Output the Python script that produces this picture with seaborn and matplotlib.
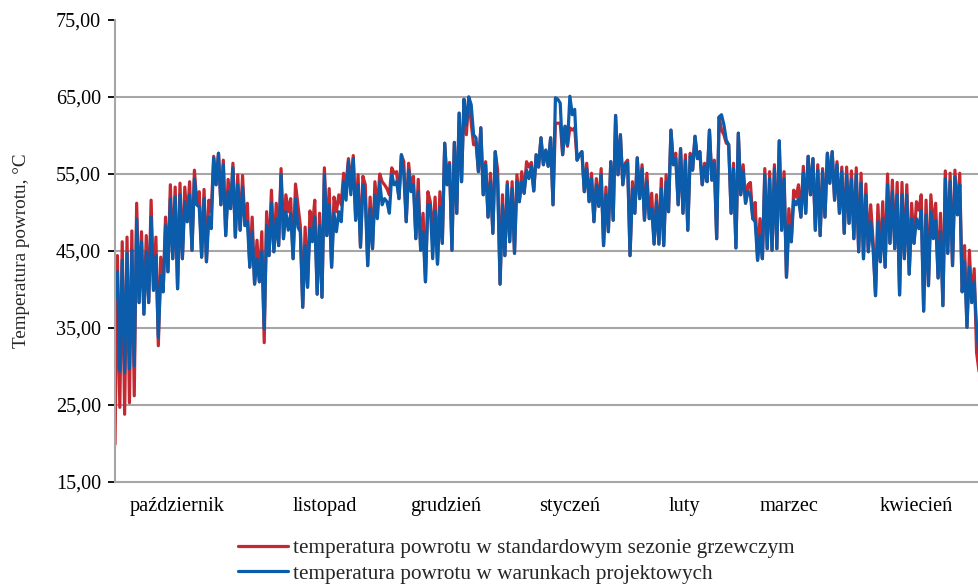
import matplotlib
matplotlib.use("Agg")
import matplotlib.pyplot as plt
from matplotlib.ticker import FuncFormatter, FixedLocator
import numpy as np
import pandas as pd
import seaborn as sns

# Return temperature, standard heating season (red)
standard = [
    # October
    19.9, 44.4, 24.7, 46.2, 23.8, 46.8, 25.3, 47.6, 26.2, 51.2, 38.3, 47.5, 36.8, 47.0, 38.3, 51.6,
    39.9, 46.8, 32.7, 44.2, 39.7, 49.4, 42.3, 53.6, 44.0, 53.3, 40.1, 53.8, 44.0, 53.3, 48.8, 54.0,
    45.1, 55.5, 51.0, 52.7, 44.2, 53.0, 43.6, 51.6, 50.1, 57.3, 53.6, 57.7, 51.0, 56.8, 47.0, 54.3,
    50.5, 56.4, 46.8, 54.9, 47.7, 54.8, 48.3, 51.2, 42.9, 49.4, 40.7, 46.4, 41.0, 47.5,
    # November
    33.1, 50.1, 44.4, 52.9, 44.9, 51.2, 45.7, 55.7, 46.6, 52.3, 50.1, 51.8, 44.0, 53.7, 51.0, 48.3,
    37.7, 48.1, 40.3, 50.2, 47.9, 51.6, 39.4, 49.9, 39.0, 55.8, 47.0, 53.1, 42.9, 52.0, 50.1, 52.3,
    51.0, 55.1, 53.6, 57.0, 53.6, 57.4, 49.0, 54.9, 45.5, 54.7, 53.6, 43.1, 52.0, 45.3, 54.0, 50.1,
    55.0, 54.0, 53.6, 53.1, 52.3, 55.8, 55.1, 55.3, 51.8, 57.5,
    # December
    56.6, 48.8, 56.4, 53.1, 54.7, 46.6, 54.3, 45.1, 49.9, 41.0, 52.7, 51.4, 46.6, 52.0, 43.3, 52.7,
    46.0, 59.0, 53.6, 56.5, 45.1, 59.1, 49.9, 62.9, 54.0, 64.7, 60.1, 65.0, 61.6, 58.8, 59.0, 55.3,
    61.0, 52.3, 56.6, 49.4, 55.1, 47.3, 57.9, 55.5, 40.7, 52.3, 44.4, 54.0, 46.2, 54.0, 44.7, 54.9,
    51.4, 55.3, 52.5, 56.6, 55.9, 56.5, 52.8, 57.5, 55.9, 59.7, 56.2, 58.1,
    # January
    56.0, 59.7, 51.0, 61.6, 61.6, 61.6, 57.5, 61.2, 58.6, 61.0, 60.7, 61.0, 56.8, 57.5, 57.9, 52.7,
    56.4, 51.4, 55.1, 48.8, 54.4, 50.8, 55.7, 45.7, 53.3, 47.5, 56.6, 49.0, 62.6, 54.9, 60.1, 53.6,
    56.4, 56.8, 44.4, 54.0, 49.9, 57.1, 51.8, 56.2, 49.0, 55.1, 49.2, 52.5, 45.9, 52.3, 45.9, 54.4,
    45.7, 54.9, 50.1, 60.7, 56.2, 57.7, 51.0, 58.3, 49.9, 57.5, 47.7, 57.7, 55.5, 59.9,
    # February / March
    57.0, 57.9, 53.6, 56.4, 54.0, 60.7, 54.2, 56.8, 46.6, 62.4, 60.7, 60.1, 59.0, 58.8, 49.9, 56.4,
    45.4, 60.3, 52.3, 56.2, 51.2, 53.6, 53.9, 49.2, 51.3, 43.8, 49.2, 44.0, 55.7, 45.3, 55.3, 45.1,
    56.2, 45.3, 59.3, 47.7, 55.3, 41.6, 50.5, 46.2, 52.9, 52.0, 53.6, 49.4, 56.0, 49.9, 57.3, 52.3,
    57.0, 47.7, 56.2, 47.0, 55.7, 49.4, 57.7, 53.8, 57.9, 51.6, 56.6, 49.9, 55.9,
    # April
    47.3, 55.9, 48.6, 55.4, 46.6, 55.8, 44.9, 55.1, 44.0, 53.7, 44.9, 51.0, 46.2, 39.2, 51.0, 43.6,
    51.4, 42.9, 55.0, 46.0, 54.2, 45.3, 53.9, 39.3, 53.9, 44.0, 53.6, 42.0, 51.2, 46.0, 51.4, 50.3,
    52.3, 37.2, 51.6, 40.5, 52.3, 47.9, 51.2, 41.5, 49.9, 37.9, 55.4, 44.7, 55.1, 43.1, 55.5, 49.7,
    55.1, 39.7, 45.7, 35.1, 45.1, 38.3, 42.7, 31.8, 29.4,
]

# Return temperature under design conditions (blue)
design = [
    # October
    38.8, 42.3, 29.4, 43.8, 29.2, 44.7, 29.7, 45.1, 30.1, 49.2, 38.3, 46.2, 36.8, 44.9, 38.3, 49.4,
    39.9, 44.4, 33.8, 41.8, 39.7, 48.3, 42.3, 51.8, 44.0, 52.0, 40.1, 52.3, 44.0, 51.4, 48.8, 52.3,
    45.1, 54.4, 51.0, 50.7, 44.2, 51.8, 43.6, 49.4, 47.9, 57.1, 53.6, 57.7, 51.0, 56.2, 47.0, 52.7,
    50.5, 55.8, 46.8, 53.6, 47.7, 53.3, 48.3, 48.8, 42.9, 47.5, 40.7, 44.0, 41.0, 44.9,
    # November
    34.9, 48.3, 44.4, 51.2, 44.9, 49.2, 45.7, 54.9, 46.6, 50.1, 47.7, 49.9, 44.0, 51.8, 48.1, 47.5,
    37.7, 45.7, 40.3, 47.9, 46.2, 49.4, 39.4, 48.3, 39.0, 54.9, 47.0, 51.0, 42.9, 49.9, 47.5, 50.1,
    48.8, 54.0, 51.6, 56.6, 52.3, 57.0, 49.0, 53.6, 45.5, 53.6, 51.8, 43.1, 50.5, 45.3, 52.3, 49.2,
    54.0, 51.0, 51.8, 51.4, 49.9, 54.9, 53.6, 54.0, 51.8, 57.5,
    # December
    54.9, 48.8, 55.5, 52.7, 53.6, 46.6, 52.7, 45.1, 47.5, 41.0, 51.0, 51.0, 44.0, 50.2, 43.3, 50.7,
    46.0, 59.0, 53.6, 56.2, 45.1, 59.1, 49.9, 62.9, 54.0, 64.7, 61.4, 65.0, 64.0, 60.1, 59.7, 55.3,
    61.0, 52.3, 56.2, 49.4, 54.0, 47.3, 57.9, 53.6, 40.7, 51.0, 44.4, 53.6, 46.2, 53.1, 44.7, 54.0,
    51.4, 54.0, 52.5, 55.5, 54.4, 56.0, 52.8, 57.5, 55.9, 59.7, 56.2, 58.1,
    # January
    56.0, 59.7, 51.0, 64.9, 64.7, 64.2, 57.5, 61.2, 58.8, 65.1, 62.7, 63.4, 56.8, 57.5, 57.9, 52.7,
    55.7, 51.4, 54.4, 48.8, 53.6, 50.8, 54.9, 45.7, 52.3, 47.5, 56.6, 49.0, 62.6, 54.9, 60.1, 53.6,
    56.2, 56.4, 44.4, 53.1, 49.9, 57.1, 51.8, 55.7, 49.0, 54.0, 49.2, 50.5, 45.9, 51.4, 45.9, 53.1,
    45.7, 54.0, 50.1, 60.7, 56.2, 57.0, 51.0, 58.3, 49.9, 56.8, 47.7, 57.3, 55.5, 59.9,
    # February / March
    57.0, 57.9, 53.6, 56.0, 54.0, 60.7, 54.2, 56.4, 46.6, 62.4, 62.7, 61.4, 59.4, 58.8, 49.9, 55.7,
    45.4, 60.3, 52.3, 55.3, 51.2, 52.7, 52.3, 49.2, 48.8, 43.8, 47.0, 44.0, 54.9, 45.3, 54.4, 45.1,
    55.7, 45.3, 59.3, 47.7, 54.4, 41.6, 48.3, 46.2, 51.6, 51.0, 51.8, 49.4, 55.1, 49.9, 57.3, 52.3,
    57.0, 47.7, 55.5, 47.0, 55.3, 49.4, 57.7, 53.8, 57.9, 51.6, 56.2, 49.9, 55.3,
    # April
    47.3, 54.9, 48.6, 54.3, 46.6, 54.9, 44.9, 53.8, 44.0, 52.3, 44.9, 48.8, 45.3, 39.2, 48.8, 43.6,
    49.2, 42.9, 53.6, 46.0, 52.7, 45.3, 52.3, 39.3, 52.3, 44.0, 52.3, 42.0, 49.2, 46.0, 49.2, 47.9,
    50.3, 37.2, 49.7, 40.5, 50.1, 46.6, 49.0, 41.5, 47.5, 37.9, 54.4, 44.7, 54.0, 43.1, 54.6, 49.7,
    53.6, 39.7, 43.6, 35.1, 42.9, 38.3, 41.0, 35.0, 31.8,
]

months = ["październik", "listopad", "grudzień", "styczeń", "luty", "marzec", "kwiecień"]
series_labels = [
    "temperatura powrotu w standardowym sezonie grzewczym",
    "temperatura powrotu w warunkach projektowych",
]
y_ticks = [15, 25, 35, 45, 55, 65, 75]

# label centres along the axis, as a fraction of its width
month_label_frac = [0.0718, 0.2431, 0.3831, 0.5266, 0.6586, 0.7801, 0.9271]

sns.set_theme(style="white")
plt.rcParams["font.family"] = ["Liberation Serif", "DejaVu Serif"]

n = len(standard)
df = pd.DataFrame({
    "idx": np.arange(n),
    "standard": standard,
    "design": design,
})

fig = plt.figure(figsize=(9.79, 5.84), dpi=100)
ax = fig.add_axes([115 / 979, 1 - 482 / 584, 864 / 979, 462 / 584])

red = "#C42830"
blue = "#0B5CAA"
sns.lineplot(data=df, x="idx", y="standard", ax=ax, color=red, linewidth=2.3,
             label=series_labels[0], legend=False)
sns.lineplot(data=df, x="idx", y="design", ax=ax, color=blue, linewidth=2.3,
             label=series_labels[1], legend=False)

grey = "#A6A6A6"
ax.set_xlim(0, n - 1)
ax.set_ylim(15, 75)
ax.yaxis.set_major_locator(FixedLocator(y_ticks))
ax.yaxis.set_major_formatter(FuncFormatter(lambda v, _: f"{v:.2f}".replace(".", ",")))
for v in y_ticks[1:-1]:
    ax.axhline(v, color=grey, linewidth=1.5, zorder=0)

ax.set_xticks([f * (n - 1) for f in month_label_frac])
ax.set_xticklabels(months)
ax.tick_params(axis="x", length=0, pad=11, labelsize=14.7, colors="black")
ax.tick_params(axis="y", length=5, width=1.3, direction="out",
               pad=5, labelsize=14.5, colors="black", left=True)
for t in ax.get_yticklines():
    t.set_color(grey)

for side in ["top", "right"]:
    ax.spines[side].set_visible(False)
for side in ["left", "bottom"]:
    ax.spines[side].set_color(grey)
    ax.spines[side].set_linewidth(1.5)

ax.set_xlabel("")
ax.set_ylabel("Temperatura powrotu, °C", fontsize=13.8, labelpad=19)

handles, labels = ax.get_legend_handles_labels()
fig.legend(handles, labels, loc="center", bbox_to_anchor=(516 / 979, 1 - 561 / 584),
           ncol=1, frameon=False, fontsize=15.3, handlelength=2.35, handletextpad=0.24,
           labelspacing=0.27, borderpad=0)

fig.savefig("out.png", dpi=100)
